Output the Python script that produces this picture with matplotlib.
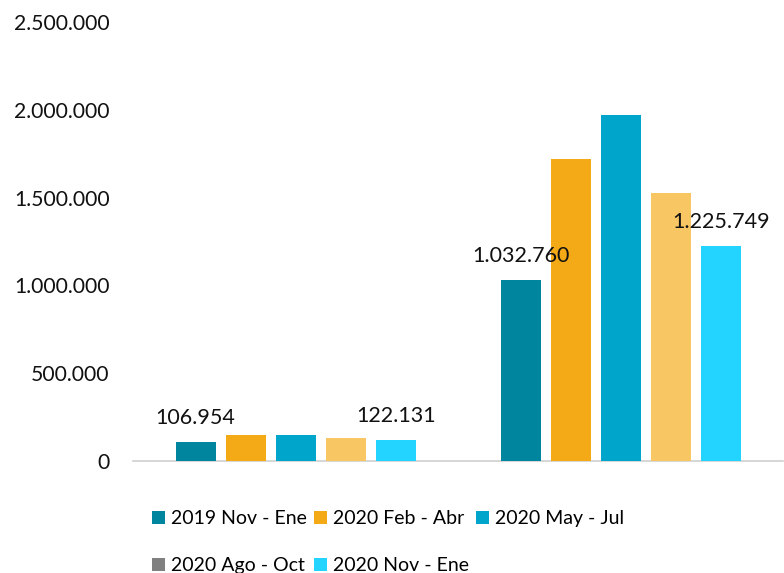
import matplotlib
matplotlib.use("Agg")
import matplotlib.pyplot as plt
from matplotlib.patches import Patch
from matplotlib.ticker import FuncFormatter
import numpy as np

plt.rcParams['font.family'] = ['Lato', 'DejaVu Sans']

groups = ["A", "B"]
series = ["2019 Nov - Ene", "2020 Feb - Abr", "2020 May - Jul", "2020 Ago - Oct", "2020 Nov - Ene"]
values = [
    [106954, 1032760],
    [150000, 1719000],
    [147000, 1968000],
    [133000, 1525000],
    [122131, 1225749],
]
bar_colors = ["#00859F", "#F4A916", "#00A5CC", "#F8C663", "#22D4FF"]
legend_colors = ["#00859F", "#F4A916", "#00A5CC", "#808080", "#22D4FF"]
labelled = [0, 4]
yticks = [0, 500000, 1000000, 1500000, 2000000, 2500000]

fig = plt.figure(figsize=(7.84, 5.73), dpi=100)
ax = fig.add_axes([0.170, 0.1955, 0.829, 0.766])

x = np.arange(len(groups))
step = 0.154
width = 0.123
for i, (name, vals) in enumerate(zip(series, values)):
    xs = x + (i - 2) * step
    ax.bar(xs, vals, width=width, color=bar_colors[i], label=name, zorder=3)
    if i in labelled:
        for xi, v in zip(xs, vals):
            ax.annotate(f"{v:,}".replace(",", "."), (xi, v), xytext=(0, 10),
                        textcoords="offset points", ha="center", va="bottom",
                        fontsize=15.5, color="#111111", zorder=4)

ax.set_xlim(-0.5, 1.5)
ax.set_ylim(0, 2500000)
ax.set_yticks(yticks)
ax.yaxis.set_major_formatter(FuncFormatter(lambda v, p: f"{int(v):,}".replace(",", ".")))
ax.tick_params(axis="y", length=0, pad=17, labelsize=15.2, labelcolor="#111111")
ax.set_xticks([])
for s in ["top", "right", "left"]:
    ax.spines[s].set_visible(False)
ax.spines["bottom"].set_color("#D0D0D0")
ax.spines["bottom"].set_linewidth(1.2)

handles = [Patch(facecolor=c, edgecolor="none", label=n) for c, n in zip(legend_colors, series)]
order = [0, 3, 1, 4, 2]
fig.legend([handles[k] for k in order], [series[k] for k in order], ncol=3,
           loc="upper left", bbox_to_anchor=(0.194, 0.11), frameon=False,
           fontsize=14, handlelength=0.65, handleheight=0.65, handletextpad=0.3,
           columnspacing=0.4, labelspacing=1.55, borderaxespad=0, borderpad=0)

fig.savefig("out.png", dpi=100)
